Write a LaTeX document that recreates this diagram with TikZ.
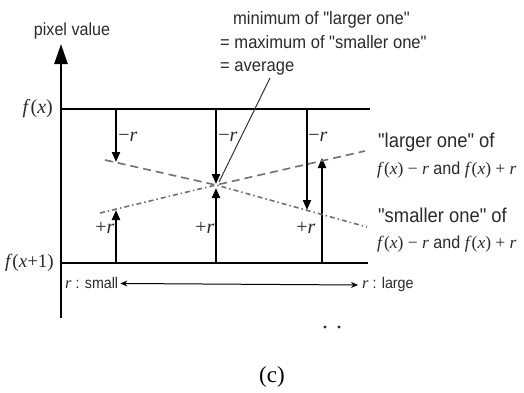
\documentclass[tikz,border=0pt]{standalone}
\usepackage{fontspec}
\setmainfont{Liberation Serif}
\newfontfamily\labfont{Liberation Sans}[FakeStretch=0.92]
\usetikzlibrary{arrows.meta}
\newcommand\sm[1]{{\rmfamily #1}}
\definecolor{txt}{HTML}{2A2A2A}
\definecolor{dgray}{HTML}{707070}
\begin{document}
\begin{tikzpicture}[x=1pt,y=-1pt,
  lab/.style={font=\labfont\fontsize{18}{20}\selectfont, text=txt, inner sep=0pt},
  rlab/.style={font=\labfont\fontsize{20}{22}\selectfont, text=txt, inner sep=0pt},
  rlabm/.style={font=\labfont\fontsize{17.5}{20}\selectfont, text=txt, inner sep=0pt},
  blab/.style={font=\labfont\fontsize{15.5}{18}\selectfont, text=txt, inner sep=0pt},
  mlab/.style={font=\fontsize{20}{22}\selectfont, text=txt, inner sep=0pt},
  hline/.style={line width=2.5pt},
  colarrow/.style={line width=2pt, -{Triangle[length=10pt,width=8pt]}},
  larger/.style={dgray, line width=1.6pt, dash pattern=on 8pt off 5pt},
  smaller/.style={dgray, line width=1.6pt, dash pattern=on 5pt off 3pt on 1.5pt off 3pt},
]
\useasboundingbox (0,0) rectangle (524,392);

% axis
\coordinate (axB) at (61,318);
\coordinate (axT) at (61,44);
\draw[line width=2.5pt,-{Triangle[length=20pt,width=13pt]}] (axB) -- (axT);
\node[lab, font=\labfont\fontsize{17.5}{20}\selectfont, anchor=base] (pv) at (72,35) {pixel value};

% horizontal levels
\coordinate (fxL) at (61,109);
\coordinate (fxR) at (370,109);
\coordinate (f1L) at (61,263);
\coordinate (f1R) at (368,263);
\draw[hline] (fxL) -- (fxR);
\draw[hline] (f1L) -- (f1R);
\node[mlab, anchor=east] (lfx) at (53,109) {\textit{f}(\textit{x})};
\node[mlab, anchor=east, font=\fontsize{19}{21}\selectfont] (lf1) at (54,263) {\textit{f}(\textit{x}+1)};

% column 1
\coordinate (c1t) at (116,109);
\coordinate (c1d) at (116,162);
\coordinate (c1b) at (116,263);
\coordinate (c1u) at (116,210);
\draw[colarrow] (c1t) -- (c1d);
\draw[colarrow] (c1b) -- (c1u);
% column 2
\coordinate (c2t) at (216,109);
\coordinate (c2d) at (216,184);
\coordinate (c2b) at (216,263);
\coordinate (c2u) at (216,188);
\draw[colarrow] (c2t) -- (c2d);
\draw[colarrow] (c2b) -- (c2u);
% column 3
\coordinate (c3t) at (307,109);
\coordinate (c3d) at (307,210);
\coordinate (c3b) at (322,263);
\coordinate (c3u) at (322,158);
\draw[colarrow] (c3t) -- (c3d);
\draw[colarrow] (c3b) -- (c3u);

% column labels
\node[mlab] (m1) at (128,137) {−\textit{r}};
\node[mlab] (m2) at (228,137) {−\textit{r}};
\node[mlab] (m3) at (318,137) {−\textit{r}};
\node[mlab] (p1) at (105,228) {+\textit{r}};
\node[mlab] (p2) at (205,228) {+\textit{r}};
\node[mlab] (p3) at (306,228) {+\textit{r}};

% larger / smaller lines
\coordinate (X) at (216,185);
\coordinate (dL) at (105,160);
\coordinate (dR) at (365,151);
\coordinate (ddL) at (100,213);
\coordinate (ddR) at (367,227);
\draw[larger] (dL) -- (X) -- (dR);
\draw[smaller] (ddL) -- (X) -- (ddR);

% top annotation
\node[lab, anchor=base west] (t1) at (233,24) {minimum of "larger one"};
\node[lab, anchor=base west] (t2) at (220,48) {= maximum of "smaller one"};
\node[lab, anchor=base west] (t3) at (220,71) {= average};
\coordinate (leadA) at (270,78);
\coordinate (leadB) at (219,182);
\draw[line width=1pt, black!80] (leadA) -- (leadB);

% right annotations
\node[rlab, anchor=base west] (r1) at (378,147) {"larger one" of};
\node[rlabm, anchor=base west] (r2) at (377,174) {\sm{\textit{f}(\textit{x}) − \textit{r}} and \sm{\textit{f}(\textit{x}) + \textit{r}}};
\node[rlab, anchor=base west] (s1) at (378,222) {"smaller one" of};
\node[rlabm, anchor=base west] (s2) at (377,248) {\sm{\textit{f}(\textit{x}) − \textit{r}} and \sm{\textit{f}(\textit{x}) + \textit{r}}};

% r range
\node[blab, anchor=base west] (rs) at (65,288) {\sm{\fontsize{16.5}{19}\selectfont\textit{r}} : small};
\node[blab, anchor=base west] (rl) at (362,288) {\sm{\fontsize{16.5}{19}\selectfont\textit{r}} : large};
\draw[line width=1pt, {Stealth[length=7pt,width=6pt]}-{Stealth[length=7pt,width=6pt]}] ([xshift=2pt,yshift=-1pt]rs.east) -- ([xshift=-4pt,yshift=-1pt]rl.west);

% dots
\coordinate (dot1) at (325,327);
\coordinate (dot2) at (339,327);
\fill[txt] (dot1) circle (1.6);
\fill[txt] (dot2) circle (1.6);

% caption
\node[font=\fontsize{23}{25}\selectfont, inner sep=0pt] (cap) at (272,377) {(c)};
\end{tikzpicture}
\end{document}
